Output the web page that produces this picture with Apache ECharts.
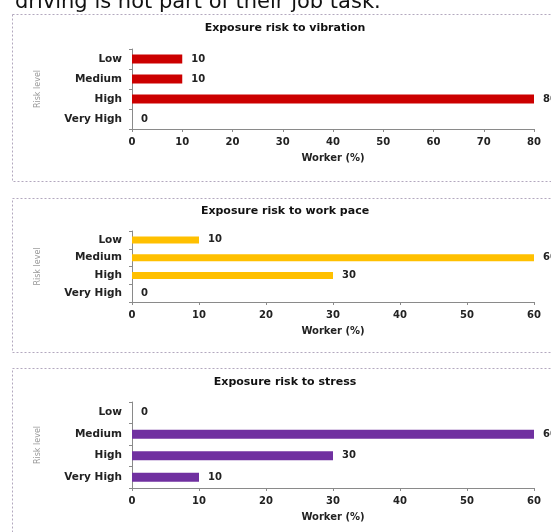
<!DOCTYPE html>
<html>
<head>
<meta charset="utf-8">
<script src="https://cdn.jsdelivr.net/npm/echarts@6/dist/echarts.min.js"></script>
<style>
  html, body { margin: 0; padding: 0; background: #fff; }
  #chart { width: 551px; height: 532px; }
</style>
</head>
<body>
<div id="chart"></div>
<script>
// data
const riskLevels = ['Low', 'Medium', 'High', 'Very High'];
const vibration = [10, 10, 80, 0];
const workPace = [10, 60, 30, 0];
const stress = [0, 60, 30, 10];
const panelTitles = ['Exposure risk to vibration', 'Exposure risk to work pace', 'Exposure risk to stress'];
const axisMax = [80, 60, 60];

// 样式
const font = 'DejaVu Sans';
const axisColor = '#8a8a8a';
const barColors = ['#cc0000', '#ffc000', '#7030a0'];
const grids = [
  { left: 132, right: 17, top: 49, height: 80 },
  { left: 132, right: 17, top: 231, height: 71 },
  { left: 132, right: 17, top: 402, height: 86 }
];
const titleTops = [23, 206, 377];
const barWidths = [9, 7, 9];
const boxes = [
  { y: 14, h: 167 },
  { y: 198, h: 154 },
  { y: 368, h: 200 }
];

const chart = echarts.init(document.getElementById('chart'));

const xAxes = grids.map((g, i) => ({
  gridIndex: i,
  type: 'value',
  min: 0,
  max: axisMax[i],
  interval: 10,
  name: 'Worker (%)',
  nameLocation: 'middle',
  nameGap: 24,
  nameTextStyle: { color: '#222', fontFamily: font, fontSize: 10, fontWeight: 'bold' },
  axisLine: { show: true, lineStyle: { color: axisColor } },
  axisTick: { show: true, length: 3, lineStyle: { color: axisColor } },
  axisLabel: { color: '#222', fontFamily: font, fontSize: 10, fontWeight: 'bold', margin: 8 },
  splitLine: { show: false }
}));

const yAxes = grids.map((g, i) => ({
  gridIndex: i,
  type: 'category',
  inverse: true,
  data: riskLevels,
  name: 'Risk level',
  nameLocation: 'middle',
  nameGap: 90,
  nameTextStyle: { color: '#999', fontFamily: font, fontSize: 8 },
  axisLine: { show: true, lineStyle: { color: axisColor } },
  axisTick: { show: true, length: 3, lineStyle: { color: axisColor } },
  axisLabel: { color: '#222', fontFamily: font, fontSize: 10.5, fontWeight: 'bold', margin: 10 }
}));

const seriesData = [vibration, workPace, stress];
const series = seriesData.map((d, i) => ({
  type: 'bar',
  xAxisIndex: i,
  yAxisIndex: i,
  data: d,
  barWidth: barWidths[i],
  itemStyle: { color: barColors[i] },
  label: {
    show: true,
    position: 'right',
    distance: 9,
    color: '#222',
    fontFamily: font,
    fontSize: 10,
    fontWeight: 'bold'
  }
}));

// 虚线框
const graphics = boxes.map(b => ({
  type: 'rect',
  shape: { x: 12.5, y: b.y + 0.5, width: 600, height: b.h },
  style: { fill: 'none', stroke: '#b3a8be', lineWidth: 1, lineDash: [2, 2] },
  z: -1
}));
graphics.push({
  type: 'text',
  left: 15,
  top: -8,
  style: {
    text: 'driving is not part of their job task.',
    fill: '#111',
    font: '21px "DejaVu Sans"'
  }
});

chart.setOption({
  animation: false,
  title: panelTitles.map((t, i) => ({
    text: t,
    left: 285,
    textAlign: 'center',
    top: titleTops[i],
    padding: 0,
    textStyle: { color: '#111', fontFamily: font, fontSize: 11, fontWeight: 'bold' }
  })),
  grid: grids,
  xAxis: xAxes,
  yAxis: yAxes,
  series: series,
  graphic: graphics
});
</script>
</body>
</html>
